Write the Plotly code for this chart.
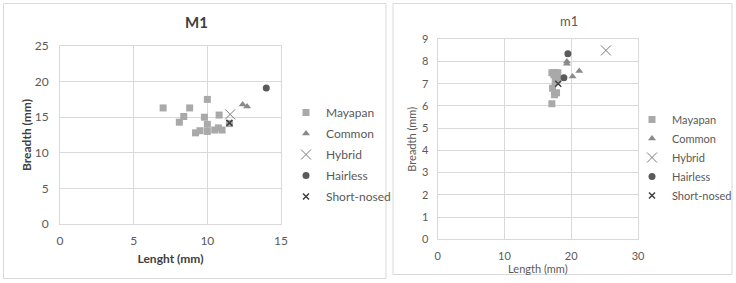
import plotly.graph_objects as go

W, H = 736, 283

# ---------------- M1 data ----------------
m1_mayapan_x = [7.0, 8.1, 8.4, 8.8, 9.2, 9.5, 9.8, 10.0, 10.0, 10.0, 10.5, 10.75, 10.8, 11.0, 11.5]
m1_mayapan_y = [16.3, 14.3, 15.1, 16.3, 12.8, 13.1, 15.0, 17.5, 14.0, 13.0, 13.2, 13.5, 15.3, 13.2, 14.1]
m1_common_x = [12.4, 12.7]
m1_common_y = [16.8, 16.5]
m1_hybrid_x = [11.55]
m1_hybrid_y = [15.4]
m1_hairless_x = [14.0]
m1_hairless_y = [19.1]
m1_short_x = [11.5]
m1_short_y = [14.2]

# ---------------- m1 data ----------------
sm_mayapan_x = [17.1, 17.4, 17.7, 18.0, 17.4, 17.7, 17.9, 17.6, 17.2, 17.8, 17.5, 17.1]
sm_mayapan_y = [7.5, 7.5, 7.5, 7.5, 7.4, 7.3, 7.2, 7.1, 6.8, 6.6, 6.5, 6.1]
sm_common_x = [19.35, 19.35, 20.2, 21.2]
sm_common_y = [8.0, 7.9, 7.33, 7.57]
sm_hybrid_x = [25.2]
sm_hybrid_y = [8.5]
sm_hairless_x = [19.5, 18.9]
sm_hairless_y = [8.35, 7.27]
sm_short_x = [18.05]
sm_short_y = [7.0]

series_names = ["Mayapan", "Common", "Hybrid", "Hairless", "Short-nosed"]

FONT = "Lato, 'Open Sans', sans-serif"
TXT = "#595959"
GRID = "#d9d9d9"

styles = {
    "Mayapan": dict(symbol="square", color="#a9a9a9", size=7, line=dict(width=0)),
    "Common": dict(symbol="triangle-up", color="#8a8a8a", size=7, line=dict(width=0)),
    "Hybrid": dict(symbol="x-thin-open", color="#7a7a7a", size=10, line=dict(width=1, color="#7a7a7a")),
    "Hairless": dict(symbol="circle", color="#5a5a5a", size=7, line=dict(width=0)),
    "Short-nosed": dict(symbol="x-thin-open", color="#3f3f3f", size=6, line=dict(width=1.5, color="#3f3f3f")),
}

fig = go.Figure()

left = [(m1_mayapan_x, m1_mayapan_y), (m1_common_x, m1_common_y), (m1_hybrid_x, m1_hybrid_y),
        (m1_hairless_x, m1_hairless_y), (m1_short_x, m1_short_y)]
right = [(sm_mayapan_x, sm_mayapan_y), (sm_common_x, sm_common_y), (sm_hybrid_x, sm_hybrid_y),
         (sm_hairless_x, sm_hairless_y), (sm_short_x, sm_short_y)]

for name, (xs, ys) in zip(series_names, left):
    fig.add_trace(go.Scatter(x=xs, y=ys, mode="markers", name=name, marker=styles[name],
                             xaxis="x", yaxis="y", legend="legend", legendgroup="L" + name))
for name, (xs, ys) in zip(series_names, right):
    fig.add_trace(go.Scatter(x=xs, y=ys, mode="markers", name=name, marker=styles[name],
                             xaxis="x2", yaxis="y2", legend="legend2", legendgroup="R" + name))

def px_x(p):
    return p / W

def px_y(p):
    return 1 - p / H

axis_common = dict(showgrid=True, gridcolor=GRID, gridwidth=1, zeroline=False,
                   showline=True, linecolor=GRID, mirror=True, ticks="", automargin=False,
                   tickfont=dict(family=FONT, size=12, color=TXT))

fig.update_layout(
    width=W, height=H,
    margin=dict(l=0, r=0, t=0, b=0, pad=0, autoexpand=False),
    paper_bgcolor="white", plot_bgcolor="white",
    font=dict(family=FONT, color=TXT),
    xaxis=dict(axis_common, domain=[px_x(60), px_x(281)], range=[0, 15], dtick=5,
               anchor="y", ticklabelstandoff=6,
               title=dict(text="<b>Lenght (mm)</b>", font=dict(size=12, color="#404040"), standoff=7)),
    yaxis=dict(axis_common, domain=[px_y(224), px_y(46)], range=[0, 25], dtick=5,
               anchor="x", ticklabelstandoff=8,
               title=dict(text="<b>Breadth (mm)</b>", font=dict(size=12, color="#404040"), standoff=0)),
    xaxis2=dict(axis_common, domain=[px_x(437.7), px_x(638)], range=[0, 30], dtick=10,
                anchor="y2", ticklabelstandoff=6, tickfont=dict(family=FONT, size=11, color=TXT),
                title=dict(text="Length (mm)", font=dict(size=11, color=TXT), standoff=4)),
    yaxis2=dict(axis_common, domain=[px_y(239.3), px_y(39.3)], range=[0, 9], dtick=1,
                anchor="x2", ticklabelstandoff=6, tickfont=dict(family=FONT, size=11, color=TXT),
                title=dict(text="Breadth (mm)", font=dict(size=11, color=TXT), standoff=3)),
    legend=dict(x=px_x(286), y=px_y(98), xanchor="left", yanchor="top",
                font=dict(family=FONT, size=12, color=TXT), itemwidth=30,
                tracegroupgap=2, bgcolor="rgba(0,0,0,0)"),
    legend2=dict(x=px_x(632), y=px_y(105), xanchor="left", yanchor="top",
                 font=dict(family=FONT, size=11, color=TXT), itemwidth=30,
                 tracegroupgap=0, bgcolor="rgba(0,0,0,0)"),
    annotations=[
        dict(text="<b>M1</b>", x=px_x(196), y=px_y(22), xref="paper", yref="paper",
             xanchor="center", yanchor="middle",
             showarrow=False, font=dict(family=FONT, size=15, color="#404040")),
        dict(text="m1", x=px_x(569), y=px_y(21), xref="paper", yref="paper",
             xanchor="center", yanchor="middle",
             showarrow=False, font=dict(family=FONT, size=13, color=TXT)),
    ],
    shapes=[
        dict(type="rect", xref="paper", yref="paper", x0=px_x(3.5), x1=px_x(386), y0=px_y(278.5), y1=px_y(3.5),
             line=dict(color=GRID, width=1)),
        dict(type="rect", xref="paper", yref="paper", x0=px_x(393), x1=px_x(732), y0=px_y(274.5), y1=px_y(3.5),
             line=dict(color=GRID, width=1)),
    ],
)

fig.write_html("out.html", config={"displayModeBar": False},
               post_script="document.body.style.margin='0';document.body.style.overflow='hidden';")
